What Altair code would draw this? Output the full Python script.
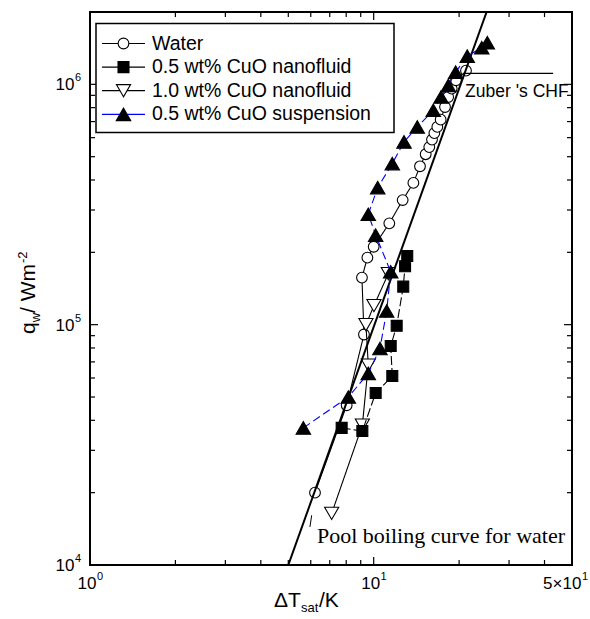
import altair as alt
import pandas as pd

W, H = 482, 553
SANS = "Liberation Sans"
SERIF = "Liberation Serif"

# ---------------- data ----------------
water_dT = [6.21, 8.03, 9.24, 9.09, 9.50, 10.0, 11.35, 12.65, 13.8, 14.56, 15.25,
            15.7, 16.05, 16.36, 16.76, 17.22, 17.84, 18.3, 18.83, 19.5, 21.15]
water_q = [2.0e4, 4.62e4, 9.1e4, 1.57e5, 1.90e5, 2.11e5, 2.64e5, 3.30e5, 3.89e5, 4.56e5, 5.12e5,
           5.48e5, 5.89e5, 6.27e5, 6.65e5, 7.13e5, 8.05e5, 8.86e5, 9.6e5, 1.04e6, 1.14e6]

nano05_dT = [7.71, 9.12, 10.16, 11.63, 11.48, 12.05, 12.71, 12.9, 13.13]
nano05_q = [3.72e4, 3.61e4, 5.2e4, 6.11e4, 8.15e4, 9.89e4, 1.44e5, 1.75e5, 1.93e5]

nano10_dT = [7.11, 9.12, 9.57, 9.39, 10.02, 11.26]
nano10_q = [1.64e4, 3.82e4, 6.79e4, 1.0e5, 1.2e5, 1.63e5]

susp_dT = [5.65, 8.14, 9.57, 10.52, 11.11, 11.48, 10.16, 9.57, 10.33, 11.63, 12.79,
           14.24, 16.22, 17.27, 18.33, 19.45, 21.37, 24.03, 25.14]
susp_q = [3.72e4, 5.0e4, 6.27e4, 7.96e4, 1.14e5, 1.66e5, 2.36e5, 2.88e5, 3.72e5, 4.68e5, 5.76e5,
          6.65e5, 7.8e5, 8.86e5, 9.9e5, 1.125e6, 1.31e6, 1.42e6, 1.49e6]

pool_dT = [5.0, 25.0]
pool_q = [1.0e4, 2.0e6]

zuber_dT = [20.6, 42.9]
zuber_q = [1.11e6, 1.11e6]

series_names = ["Water", "0.5 wt% CuO nanofluid", "1.0 wt% CuO nanofluid", "0.5 wt% CuO suspension"]

# tick labels: base text + superscript
x_tick_values = [1, 10, 50]
x_tick_base = ["10", "10", "5×10"]
x_tick_sup = ["0", "1", "1"]
y_tick_values = [1e4, 1e5, 1e6]
y_tick_base = ["10", "10", "10"]
y_tick_sup = ["4", "5", "6"]

x_major_ticks = [1, 10]
x_minor_ticks = [2, 3, 4, 5, 6, 7, 8, 9, 20, 30, 40]
y_major_ticks = [1e4, 1e5, 1e6]
y_minor_ticks = [2e4, 3e4, 4e4, 5e4, 6e4, 7e4, 8e4, 9e4,
                 2e5, 3e5, 4e5, 5e5, 6e5, 7e5, 8e5, 9e5]

# ---------------- scales ----------------
xs = alt.Scale(type="log", domain=[1, 50], nice=False)
ys = alt.Scale(type="log", domain=[1e4, 2e6], nice=False)

X = alt.X("dT:Q", scale=xs, axis=None)
Y = alt.Y("q:Q", scale=ys, axis=None)


def sdf(dT, q):
    return pd.DataFrame({"dT": dT, "q": q, "i": list(range(len(dT)))})


styles = {
    "Water": dict(shape="circle", fill="white", size=115, line="black", dash=[1, 0]),
    "0.5 wt% CuO nanofluid": dict(shape="square", fill="black", size=120, line="black", dash=[9, 3]),
    "1.0 wt% CuO nanofluid": dict(shape="triangle-down", fill="white", size=200, line="black", dash=[1, 0]),
    "0.5 wt% CuO suspension": dict(shape="triangle-up", fill="black", size=210, line="#0000ff", dash=[8, 4]),
}


def series_layers(name, dT, q):
    st = styles[name]
    d = sdf(dT, q)
    ln = alt.Chart(d).mark_line(color=st["line"], strokeWidth=1.1, strokeDash=st["dash"]).encode(
        x=X, y=Y, order="i:Q")
    pt = alt.Chart(d).mark_point(shape=st["shape"], filled=True, fill=st["fill"], stroke="black",
                                 strokeWidth=1.1, size=st["size"], opacity=1).encode(x=X, y=Y)
    return [ln, pt]


pool_line = alt.Chart(sdf(pool_dT, pool_q)).mark_line(color="black", strokeWidth=2, clip=True).encode(
    x=X, y=Y, order="i:Q")

zuber_line = alt.Chart(sdf(zuber_dT, zuber_q)).mark_line(color="black", strokeWidth=1.3).encode(
    x=X, y=Y, order="i:Q")

zuber_text = alt.Chart(pd.DataFrame({"dT": [21.0], "q": [9.27e5], "t": ["Zuber 's CHF"]})).mark_text(
    align="left", baseline="middle", font=SANS, fontSize=17.5, color="black").encode(x=X, y=Y, text="t:N")

pool_text = alt.Chart(pd.DataFrame({"dT": [6.31], "q": [1.323e4], "t": ["Pool boiling curve for water"]})).mark_text(
    align="left", baseline="middle", font=SERIF, fontSize=22, color="black").encode(x=X, y=Y, text="t:N")

leader = alt.Chart(pd.DataFrame({"dT": [6.045], "q": [1.61e4], "dT2": [5.96], "q2": [1.44e4]})).mark_rule(
    color="black", strokeWidth=1).encode(x=X, y=Y, x2="dT2:Q", y2="q2:Q")


# inward ticks on all four sides
def xticks(vals, ln):
    d = pd.DataFrame({"dT": vals})
    b = alt.Chart(d).mark_rule(color="black", strokeWidth=1.2).encode(x=X, y=alt.value(H), y2=alt.value(H - ln))
    t = alt.Chart(d).mark_rule(color="black", strokeWidth=1.2).encode(x=X, y=alt.value(0), y2=alt.value(ln))
    return [b, t]


def yticks(vals, ln):
    d = pd.DataFrame({"q": vals})
    l = alt.Chart(d).mark_rule(color="black", strokeWidth=1.2).encode(y=Y, x=alt.value(0), x2=alt.value(ln))
    r = alt.Chart(d).mark_rule(color="black", strokeWidth=1.2).encode(y=Y, x=alt.value(W), x2=alt.value(W - ln))
    return [l, r]


tick_layers = xticks(x_major_ticks, 8) + xticks(x_minor_ticks, 5) + yticks(y_major_ticks, 8) + yticks(y_minor_ticks, 5)

# tick labels with superscripts
LBL, SUP = 17, 11
CW = {"1": 0.556, "0": 0.556, "5": 0.556, "×": 0.584}
RIGHT_LIMIT = 16  # keep labels inside the canvas (px past the plot's right edge)


def tw(s, size):
    return sum(CW.get(c, 0.556) for c in s) * size


label_layers = []
for v, b, s in zip(x_tick_values, x_tick_base, x_tick_sup):
    bw, sw = tw(b, LBL), tw(s, SUP)
    off = (bw - sw) / 2
    if v == xs.domain[1]:
        off = min(off, RIGHT_LIMIT - sw - 0.5)
    d = pd.DataFrame({"dT": [v], "b": [b], "s": [s]})
    label_layers.append(alt.Chart(d).mark_text(align="right", baseline="alphabetic", font=SANS, fontSize=LBL,
                                               color="black", dx=off).encode(x=X, y=alt.value(H + 24), text="b:N"))
    label_layers.append(alt.Chart(d).mark_text(align="left", baseline="alphabetic", font=SANS, fontSize=SUP,
                                               color="black", dx=off + 0.5).encode(x=X, y=alt.value(H + 15), text="s:N"))
for v, b, s in zip(y_tick_values, y_tick_base, y_tick_sup):
    sw = tw(s, SUP)
    d = pd.DataFrame({"q": [v], "b": [b], "s": [s]})
    label_layers.append(alt.Chart(d).mark_text(align="right", baseline="alphabetic", font=SANS, fontSize=LBL,
                                               color="black", dy=6).encode(x=alt.value(-9 - sw - 0.5), y=Y, text="b:N"))
    label_layers.append(alt.Chart(d).mark_text(align="right", baseline="alphabetic", font=SANS, fontSize=SUP,
                                               color="black", dy=-3).encode(x=alt.value(-9), y=Y, text="s:N"))

# legend (drawn box)
one = pd.DataFrame({"a": [0]})
legend_layers = [alt.Chart(one).mark_rect(fill="white", stroke="black", strokeWidth=1.5).encode(
    x=alt.value(6), x2=alt.value(304), y=alt.value(11.5), y2=alt.value(120.5))]
for k, name in enumerate(series_names):
    st = styles[name]
    yy = 31.5 + 23.6 * k
    dd = pd.DataFrame({"label": [name]})
    legend_layers.append(alt.Chart(dd).mark_rule(color=st["line"], strokeWidth=1.2).encode(
        x=alt.value(12), x2=alt.value(55), y=alt.value(yy)))
    legend_layers.append(alt.Chart(dd).mark_point(shape=st["shape"], filled=True, fill=st["fill"], stroke="black",
                                                  strokeWidth=1.1, size=st["size"], opacity=1).encode(
        x=alt.value(33.5), y=alt.value(yy)))
    legend_layers.append(alt.Chart(dd).mark_text(align="left", baseline="middle", font=SANS, fontSize=19.5,
                                                 color="black").encode(
        x=alt.value(62), y=alt.value(yy), text="label:N"))


# axis titles composed of parts (sub/superscripts)
def txt(s, x, y, size, angle=0):
    return alt.Chart(pd.DataFrame({"t": [s]})).mark_text(
        align="left", baseline="alphabetic", font=SANS, fontSize=size, angle=angle, color="black").encode(
        x=alt.value(x), y=alt.value(y), text="t:N")


title_layers = [
    txt("ΔT", 184, 595, 21),
    txt("sat", 211, 600, 13),
    txt("/K", 229, 595, 21),
    txt("q", -55, 322, 21, angle=270),
    txt("w", -50, 310.3, 13, angle=270),
    txt("\u00a0/\u00a0Wm", -55, 300.9, 21, angle=270),
    txt("-2", -63, 251, 13, angle=270),
]

data_layers = []
data_layers += series_layers("Water", water_dT, water_q)
data_layers += series_layers("1.0 wt% CuO nanofluid", nano10_dT, nano10_q)
data_layers += series_layers("0.5 wt% CuO nanofluid", nano05_dT, nano05_q)
data_layers.append(pool_line)
data_layers += series_layers("0.5 wt% CuO suspension", susp_dT, susp_q)
data_layers += [zuber_line, zuber_text, pool_text, leader]

chart = alt.layer(*(tick_layers + data_layers + legend_layers + label_layers + title_layers)).properties(
    width=W, height=H,
    autosize=alt.AutoSizeParams(type="none"),
    padding={"left": 90, "top": 12, "right": 18, "bottom": 54},
    background="white",
).configure_view(stroke="black", strokeWidth=2)

chart.save("out.html", embed_options={"renderer": "svg", "actions": False})
